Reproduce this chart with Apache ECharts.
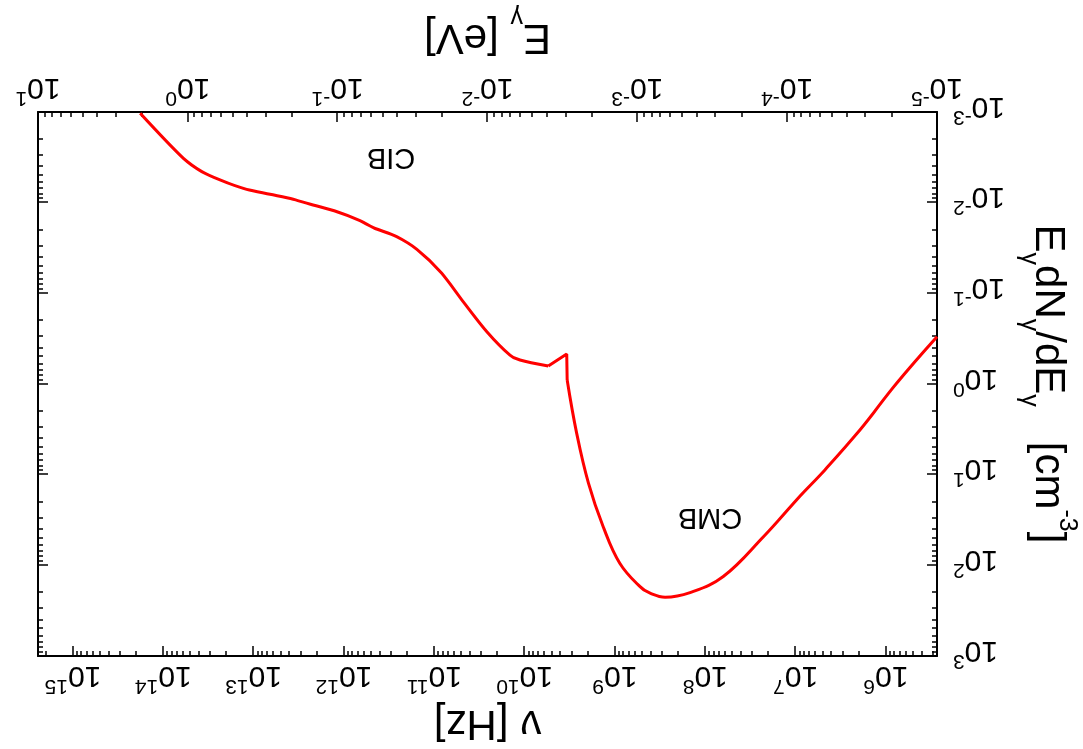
<!DOCTYPE html>
<html>
<head>
<meta charset="utf-8">
<title>CIB / CMB photon density</title>
<script src="https://cdn.jsdelivr.net/npm/echarts@6.0.0/dist/echarts.min.js"></script>
<style>
    html, body { margin: 0; padding: 0; background: #fff; overflow: hidden; }
    /* the reference is printed upside down */
    #content { width: 1083px; height: 749px; transform: rotate(180deg); }
</style>
</head>
<body>
<div id="content"></div>
<script>
// photon energy [eV] and E dN/dE [cm^-3]
var energy = [2.08, 1.07, 0.807, 0.610, 0.405, 0.283, 0.198, 0.146, 0.101, 0.0710,
    0.0578, 0.0404, 0.0296, 0.0202, 0.0145, 0.0101, 7.08e-3, 6.07e-3, 3.93e-3, 2.96e-3,
    2.94e-3, 2.54e-3, 2.12e-3, 1.69e-3, 1.31e-3, 9.59e-4, 8.22e-4, 6.53e-4, 4.45e-4, 2.67e-4,
    1.44e-4, 8.20e-5, 5.74e-5, 3.27e-5, 1.86e-5, 1.00e-5];
var density = [1.03e-3, 3.24e-3, 4.55e-3, 5.62e-3, 7.13e-3, 8.09e-3, 9.18e-3, 1.06e-2, 1.26e-2, 1.58e-2,
    1.89e-2, 2.37e-2, 3.27e-2, 6.01e-2, 0.124, 0.265, 0.479, 0.543, 0.632, 0.467,
    0.904, 3.50, 12.4, 37.5, 94.8, 172, 202, 225, 200, 133,
    48.3, 17.2, 9.27, 3.21, 0.982, 0.301];
// the CIB part ends at the dip before the spike, the CMB part starts below it
var cibEnd = 18;
var cmbStart = 20;

// labels on the curves
var noteText = ['CIB', 'CMB'];
var noteE = [0.044, 3.27e-4];
var noteY = [3.13e-3, 29.3];

// decades carrying a labelled tick
var eExp = [-5, -4, -3, -2, -1, 0, 1];
var nuExp = [6, 7, 8, 9, 10, 11, 12, 13, 14, 15];
var yExp = [-3, -2, -1, 0, 1, 2, 3];

var nuMin = Math.pow(10, 5.435);
var nuMax = Math.pow(10, 15.387);

!(function(window) {
    var element = document.getElementById('content');
    var myChart = echarts.init(element);
    var font = "'Liberation Sans', Arial, Helvetica, sans-serif";

    function majors(exps) {
        return exps.map(function(e) { return Math.pow(10, e); });
    }

    function minors(lo, hi) {
        var out = [];
        for (var e = lo; e <= hi; e++) {
            for (var k = 2; k <= 9; k++) {
                out.push(k * Math.pow(10, e));
            }
        }
        return out;
    }

    function pairs(from, to) {
        var out = [];
        for (var i = from; i <= to; i++) {
            out.push([energy[i], density[i]]);
        }
        return out;
    }

    function powLabel(v) {
        var e = Math.round(Math.log10(v));
        return '{n|10}{s|' + e + '}';
    }

    var labelRich = {
        n: { fontFamily: font, fontSize: 30, lineHeight: 30, padding: [6, 0, 0, 0], verticalAlign: 'top', color: '#000' },
        s: { fontFamily: font, fontSize: 21, lineHeight: 21, verticalAlign: 'top', color: '#000' }
    };

    var nameRich = {
        m: { fontFamily: font, fontSize: 42, lineHeight: 46, padding: [10, 0, 0, 0], verticalAlign: 'top', color: '#000' },
        b: { fontFamily: font, fontSize: 25, lineHeight: 25, padding: [38, 0, 0, 0], verticalAlign: 'top', color: '#000' },
        p: { fontFamily: font, fontSize: 25, lineHeight: 25, verticalAlign: 'top', color: '#000' },
        t: { fontFamily: font, fontSize: 42, lineHeight: 46, color: '#000' }
    };

    var line = { show: true, lineStyle: { color: '#000', width: 2 } };
    var noLine = { show: false };

    function majorAxis(position, min, max, values, showLabel, margin) {
        return {
            type: 'log',
            position: position,
            min: min,
            max: max,
            axisLine: line,
            splitLine: { show: false },
            axisTick: { show: true, inside: true, length: 10, customValues: values, lineStyle: { color: '#000', width: 1.5 } },
            axisLabel: {
                show: showLabel,
                customValues: values,
                margin: margin,
                fontFamily: font,
                fontSize: 30,
                color: '#000',
                formatter: powLabel,
                rich: labelRich
            }
        };
    }

    function minorAxis(position, min, max, values) {
        return {
            type: 'log',
            position: position,
            min: min,
            max: max,
            axisLine: noLine,
            splitLine: { show: false },
            axisTick: { show: true, inside: true, length: 5, customValues: values, lineStyle: { color: '#000', width: 1.5 } },
            axisLabel: { show: false }
        };
    }

    var xE = majorAxis('bottom', 1e-5, 10, majors(eExp), true, 4);
    xE.name = '{m|E}{b|γ}{m| [eV]}';
    xE.nameLocation = 'middle';
    xE.nameGap = 34;
    xE.nameTextStyle = { fontFamily: font, rich: nameRich };

    var xNu = majorAxis('top', nuMin, nuMax, majors(nuExp), true, 10);
    xNu.name = '{t|ν [Hz]}';
    xNu.nameLocation = 'middle';
    xNu.nameGap = 44;
    xNu.nameTextStyle = { fontFamily: font, rich: nameRich };

    var yL = majorAxis('left', 1e-3, 1e3, majors(yExp), true, 16);
    yL.name = '{m|E}{b|γ}{m|dN}{b|γ}{m|/dE}{b|γ}{m|   [cm}{p|-3}{m|]}';
    yL.nameLocation = 'middle';
    yL.nameRotate = 90;
    yL.nameGap = 76;
    yL.nameTextStyle = { fontFamily: font, rich: nameRich };

    var curveStyle = { color: '#ff0000', width: 3 };

    var option = {
        backgroundColor: '#fff',
        animation: false,
        textStyle: { fontFamily: font },
        grid: { left: 146, right: 38, top: 93, bottom: 112, containLabel: false, outerBoundsMode: 'none' },
        xAxis: [
            xE,
            minorAxis('bottom', 1e-5, 10, minors(-5, 0)),
            xNu,
            minorAxis('top', nuMin, nuMax, minors(5, 15))
        ],
        yAxis: [
            yL,
            minorAxis('left', 1e-3, 1e3, minors(-3, 2)),
            majorAxis('right', 1e-3, 1e3, majors(yExp), false, 8),
            minorAxis('right', 1e-3, 1e3, minors(-3, 2))
        ],
        series: [{
            name: 'CIB',
            type: 'line',
            symbol: 'none',
            smooth: 0.3,
            clip: true,
            lineStyle: curveStyle,
            data: pairs(0, cibEnd)
        }, {
            name: 'step',
            type: 'line',
            symbol: 'none',
            clip: true,
            lineStyle: curveStyle,
            data: pairs(cibEnd, cmbStart)
        }, {
            name: 'CMB',
            type: 'line',
            symbol: 'none',
            smooth: 0.4,
            clip: true,
            lineStyle: curveStyle,
            data: pairs(cmbStart, energy.length - 1)
        }, {
            name: 'notes',
            type: 'scatter',
            symbolSize: 0,
            itemStyle: { opacity: 1 },
            label: {
                show: true,
                position: 'inside',
                fontFamily: font,
                fontSize: 29,
                color: '#000',
                textBorderWidth: 0,
                formatter: function(p) { return noteText[p.dataIndex]; }
            },
            data: noteE.map(function(e, i) { return [e, noteY[i]]; })
        }]
    };
    myChart.setOption(option);
})(window);
</script>
</body>
</html>
